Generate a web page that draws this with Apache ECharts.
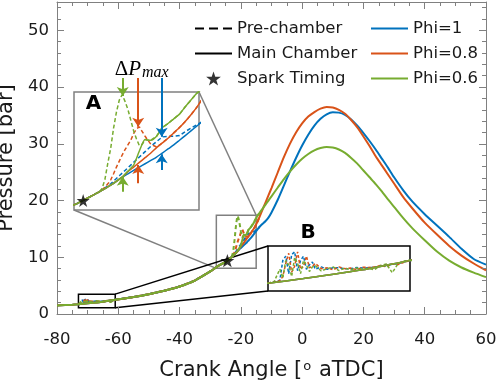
<!DOCTYPE html>
<html>
<head>
<meta charset="utf-8">
<script src="https://cdn.jsdelivr.net/npm/echarts@6/dist/echarts.min.js"></script>
<style>
  html, body { margin: 0; padding: 0; background: #fff; }
  #chart { width: 498px; height: 386px; }
  #ticks { position: absolute; left: 0; top: 0; width: 498px; height: 386px; pointer-events: none; }
</style>
</head>
<body>
<div id="chart"></div>
<div id="ticks"></div>
<script>
// crank angle [deg aTDC] of the main chamber traces
const angle = [-80, -75, -73, -70, -65, -61, -55, -50, -45, -40, -35, -30, -27, -25, -24, -23, -22, -21,
  -20.5, -20, -19.5, -19, -18.5, -18, -17.5, -17, -16.5, -16, -15.5, -15, -14.5, -14,
  -13, -12, -11, -10, -8, -6, -4, -2, 0, 2, 4, 6, 8, 10, 12, 14, 16, 18, 20, 22, 24, 26, 28, 30,
  33, 36, 40, 44, 48, 52, 56, 60];
// main chamber pressure [bar]
const mainPhi1 = [1.5, 1.63, 1.72, 1.88, 2.18, 2.5, 3.0, 3.5, 4.1, 4.85, 5.9, 7.5, 8.6, 9.15, 9.6, 10.05, 10.55, 11.15,
  11.4, 11.65, 11.9, 12.15, 12.4, 12.65, 12.95, 13.25, 13.55, 13.9, 14.25, 14.6, 14.95, 15.3,
  15.85, 16.35, 17.0, 17.9, 20.1, 22.6, 25.1, 27.5, 29.7, 31.6, 33.2, 34.4, 35.2, 35.55, 35.5, 35.1, 34.3, 33.2, 31.9, 30.5, 29.0, 27.4, 25.8, 24.1,
  21.8, 19.8, 17.6, 15.6, 13.6, 11.5, 9.7, 8.7];
const mainPhi08 = [1.5, 1.63, 1.72, 1.88, 2.18, 2.5, 3.0, 3.5, 4.1, 4.85, 5.9, 7.5, 8.6, 9.15, 9.6, 10.05, 10.55, 11.15,
  11.55, 11.9, 12.25, 12.6, 12.95, 13.35, 13.7, 14.05, 14.45, 14.85, 15.3, 15.8, 16.35, 17.0,
  18.3, 19.6, 20.9, 22.2, 24.9, 27.6, 30.0, 32.0, 33.6, 34.8, 35.6, 36.2, 36.5, 36.4, 36.0, 35.3, 34.2, 32.9, 31.3, 29.6, 27.8, 26.2, 24.6, 23.0,
  20.6, 18.6, 16.1, 14.0, 12.0, 10.3, 8.9, 7.7];
const mainPhi06 = [1.5, 1.63, 1.72, 1.88, 2.18, 2.5, 3.0, 3.5, 4.1, 4.85, 5.9, 7.5, 8.6, 9.15, 9.6, 10.05, 10.55, 11.15,
  11.6, 12.05, 13.1, 13.95, 13.9, 14.2, 14.85, 15.15, 15.5, 15.85, 16.4, 16.9, 17.4, 17.75,
  18.5, 19.25, 20.0, 20.75, 22.25, 23.75, 25.1, 26.3, 27.35, 28.2, 28.85, 29.25, 29.45, 29.35, 29.0, 28.4, 27.5, 26.5, 25.3, 24.1, 22.9, 21.6, 20.2, 18.9,
  16.9, 15.1, 13.0, 11.0, 9.4, 8.2, 7.3, 6.5];

// pre-chamber traces, drawn where they leave the main chamber trace
const preAngle = [-73, -72.5, -72, -71.75, -71.5, -71.25, -71, -70.75, -70.5, -70.25, -70, -69.75, -69.5, -69.25, -69,
  -68.5, -68, -67.5, -67, -66.5, -66, -65.5, -65, -64.5, -64, -63.5, -63, -62.5, -62, -61.5, -61,
  -55, -50, -45, -40, -35, -30, -27, -25, -24, -23,
  -22.75, -22.5, -22.25, -22, -21.75, -21.5, -21.25, -21, -20.75, -20.5, -20.25, -20, -19.75, -19.5, -19.25, -19, -18.75, -18.5,
  -18, -17.5, -17, -16.5, -16, -15.5, -15, -14.5, -14];
const prePhi1 = [1.72, 1.76, 1.82, 2.5, 2.65, 2.05, 2.7, 2.8, 2.15, 2.5, 2.65, 2.2, 2.35, 2.45, 2.2,
  2.28, 2.2, 2.25, 2.25, 2.22, 2.22, 2.26, 2.24, 2.25, 2.27, 2.3, 2.33, 2.37, 2.4, 2.45, 2.5,
  3.0, 3.5, 4.1, 4.85, 5.9, 7.5, 8.6, 9.15, 9.6, 10.05,
  10.2, 10.35, 10.5, 10.65, 10.85, 11.05, 11.25, 11.45, 11.65, 11.85, 12.05, 12.25, 12.45, 12.65, 12.85, 13.05, 13.25, 13.45,
  13.8, 14.15, 14.2, 14.2, 14.25, 14.55, 14.8, 15.05, 15.3];
const prePhi08 = [1.72, 1.76, 1.8, 1.95, 2.4, 2.75, 2.1, 2.3, 2.8, 2.2, 2.3, 2.65, 2.25, 2.3, 2.4,
  2.22, 2.25, 2.18, 2.28, 2.22, 2.24, 2.18, 2.27, 2.26, 2.28, 2.33, 2.28, 2.38, 2.36, 2.44, 2.5,
  3.0, 3.5, 4.1, 4.85, 5.9, 7.5, 8.6, 9.15, 9.6, 10.05,
  10.2, 10.4, 10.65, 10.95, 11.4, 11.9, 12.35, 12.8, 13.2, 13.55, 13.9, 14.4, 14.75, 14.9, 14.55, 14.2, 13.9, 13.6,
  13.4, 13.7, 14.05, 14.45, 14.85, 15.3, 15.8, 16.35, 17.0];
const prePhi06 = [1.72, 1.76, 2.2, 1.9, 2.5, 2.35, 1.95, 2.6, 2.4, 2.05, 2.5, 2.35, 2.12, 2.28, 2.32,
  2.14, 2.22, 2.28, 2.15, 2.24, 2.18, 2.24, 2.2, 2.23, 2.18, 2.33, 2.38, 2.08, 2.4, 2.48, 2.52,
  3.0, 3.5, 4.1, 4.85, 5.9, 7.5, 8.6, 9.15, 9.6, 10.05,
  10.3, 11.0, 12.2, 13.3, 14.8, 16.0, 16.9, 17.3, 16.8, 16.2, 15.4, 14.6, 14.0, 13.5, 13.6, 13.95, 13.9, 13.9,
  14.2, 14.85, 15.15, 15.5, 15.85, 16.4, 16.9, 17.4, 17.75];

// spark timing
const sparkAngle = [-24.4];
const sparkPressure = [9.4];

// delta P max arrows in zoom A (Phi=0.6, 0.8, 1)
const arrowAngle = [-20.95, -19.6, -17.55];
const arrowTopStart = [18.55, 18.55, 18.55];
const arrowTopTip = [17.2, 14.9, 14.17];
const arrowBottomStart = [10.06, 10.69, 11.68];
const arrowBottomTip = [11.18, 12.05, 12.85];

// axes
const xTicks = {min: -80, max: 60, interval: 20};
const yTicks = {min: 0, max: 55, interval: 10};
// zoomed windows: box drawn on the main plot, and range of each inset
const boxA = [[-28, 8.05], [-15, 17.4]];
const boxB = [[-73, 1.1], [-61, 3.5]];
const insetAX = [-25.2, -14.3], insetAY = [8.7, 17.5];
const insetBX = [-73, -61], insetBY = [1.45, 3.0];

const blue = '#0072BD', red = '#D95319', green = '#77AC30', gray = '#808080', ink = '#1a1a1a';
const FONT = 'DejaVu Sans';
const starPath = 'path://M50,2 L61.8,37.6 L99,37.6 L69,59.6 L80.4,95 L50,73.2 L19.6,95 L31,59.6 L1,37.6 L38.2,37.6 Z';
const solidIcon = 'path://M0,0h37v2h-37z';
const dashIcon = 'path://M0,0h9v2h-9zM14,0h9v2h-9zM28,0h9v2h-9z';
const mainGrid = {left: 57, top: 2, right: 12, bottom: 72, outerBoundsMode: 'none'};

const pairs = (xs, ys) => xs.map((x, i) => [x, ys[i]]);

const phis = [
  {name: 'Phi=1', color: blue, main: mainPhi1, pre: prePhi1},
  {name: 'Phi=0.8', color: red, main: mainPhi08, pre: prePhi08},
  {name: 'Phi=0.6', color: green, main: mainPhi06, pre: prePhi06}
];
const views = [
  {x: 0, y: 0, w: 2, dash: [4, 3], tag: ''},
  {x: 2, y: 2, w: 1.5, dash: [4, 2.5], tag: ' A'},
  {x: 3, y: 3, w: 1.5, dash: [3, 2], tag: ' B'}
];

const series = [];
views.forEach((v) => {
  phis.forEach((p) => {
    series.push({
      name: p.name + ' pre' + v.tag, type: 'line', xAxisIndex: v.x, yAxisIndex: v.y,
      data: pairs(preAngle, p.pre), showSymbol: false, symbol: 'none', silent: true,
      lineStyle: {color: p.color, width: v.w, type: v.dash}, itemStyle: {color: p.color}, z: 2
    });
  });
  phis.forEach((p) => {
    series.push({
      name: p.name + v.tag, type: 'line', xAxisIndex: v.x, yAxisIndex: v.y,
      data: pairs(angle, p.main), showSymbol: false, symbol: 'none', silent: true, smooth: 0.2,
      lineStyle: {color: p.color, width: v.w}, itemStyle: {color: p.color}, z: 3
    });
  });
});

// legend-only entries
series.push({name: 'Pre-chamber', type: 'line', data: [], symbol: 'none',
  lineStyle: {color: '#000', width: 1.5, type: [8, 5]}, itemStyle: {color: '#000'}});
series.push({name: 'Main Chamber', type: 'line', data: [], symbol: 'none',
  lineStyle: {color: '#000', width: 1.5}, itemStyle: {color: '#000'}});

const boxStyle = (c) => ({color: 'rgba(0,0,0,0)', borderColor: c, borderWidth: 1.5});
series.push({
  name: 'Spark Timing', type: 'scatter', xAxisIndex: 0, yAxisIndex: 0,
  data: pairs(sparkAngle, sparkPressure), symbol: starPath, symbolSize: 14, symbolKeepAspect: true,
  itemStyle: {color: '#000'}, z: 5, silent: true,
  markArea: {
    silent: true, label: {show: false},
    data: [
      [{coord: boxA[0], itemStyle: boxStyle(gray)}, {coord: boxA[1]}],
      [{coord: boxB[0], itemStyle: boxStyle('#000')}, {coord: boxB[1]}]
    ]
  }
});
series.push({
  name: 'Spark Timing A', type: 'scatter', xAxisIndex: 2, yAxisIndex: 2,
  data: pairs(sparkAngle, sparkPressure), symbol: starPath, symbolSize: 13,
  itemStyle: {color: '#000'}, z: 5, silent: true
});

// delta P max arrows
const arrowData = [];
arrowAngle.forEach((a, i) => {
  const c = [green, red, blue][i];
  arrowData.push({coords: [[a, arrowTopStart[i]], [a, arrowTopTip[i]]], lineStyle: {color: c}});
  arrowData.push({coords: [[a, arrowBottomStart[i]], [a, arrowBottomTip[i]]], lineStyle: {color: c}});
});
series.push({
  name: 'dP arrows', type: 'lines', coordinateSystem: 'cartesian2d', xAxisIndex: 2, yAxisIndex: 2,
  data: arrowData, symbol: ['none', 'arrow'], symbolSize: 9, clip: false, silent: true, z: 6,
  lineStyle: {width: 2, opacity: 1, curveness: 0}
});

const labelStyle = () => ({color: ink, fontSize: 16.5, fontFamily: FONT});
const off = () => ({show: false});
const axisLine = () => ({show: true, onZero: false, lineStyle: {color: gray, width: 1}});
const majorTick = () => ({show: true, inside: true, length: 7, lineStyle: {color: gray, width: 1}});
const minorTick = (n) => ({show: true, splitNumber: n, length: 4, lineStyle: {color: gray, width: 1}});
const quietAxis = (grid, range) => ({type: 'value', gridIndex: grid, min: range[0], max: range[1],
  axisLine: off(), axisTick: off(), axisLabel: off(), splitLine: off()});

const option = {
  animation: false,
  backgroundColor: '#fff',
  grid: [
    mainGrid,
    {left: 74, top: 92, width: 125, height: 118, show: true, borderColor: gray, borderWidth: 1.5, backgroundColor: '#fff', outerBoundsMode: 'none'},
    {left: 268, top: 246, width: 142, height: 45, show: true, borderColor: '#000', borderWidth: 1.5, backgroundColor: '#fff', outerBoundsMode: 'none'}
  ],
  xAxis: [
    {type: 'value', gridIndex: 0, position: 'bottom', min: xTicks.min, max: xTicks.max, interval: xTicks.interval,
      axisLine: axisLine(), splitLine: off(), axisTick: off(),
      axisLabel: Object.assign({margin: 17}, labelStyle()),
      name: 'Crank Angle [{sup|o} aTDC]', nameLocation: 'middle', nameGap: 46,
      nameTextStyle: {color: ink, fontSize: 21, fontFamily: FONT,
        rich: {sup: {fontSize: 13, fontFamily: FONT, color: ink, verticalAlign: 'top', padding: [0, 1, 0, 1]}}}},
    {type: 'value', gridIndex: 0, position: 'top', min: xTicks.min, max: xTicks.max, interval: xTicks.interval,
      axisLine: axisLine(), splitLine: off(), axisLabel: off(), axisTick: off()},
    quietAxis(1, insetAX),
    quietAxis(2, insetBX)
  ],
  yAxis: [
    {type: 'value', gridIndex: 0, position: 'left', min: yTicks.min, max: yTicks.max, interval: yTicks.interval,
      axisLine: axisLine(), splitLine: off(), axisTick: off(),
      axisLabel: Object.assign({margin: 8, showMaxLabel: false}, labelStyle()),
      name: 'Pressure [bar]', nameLocation: 'middle', nameGap: 35,
      nameTextStyle: {color: ink, fontSize: 21, fontFamily: FONT}},
    {type: 'value', gridIndex: 0, position: 'right', min: yTicks.min, max: yTicks.max, interval: yTicks.interval,
      axisLine: axisLine(), splitLine: off(), axisLabel: off(), axisTick: off()},
    quietAxis(1, insetAY),
    quietAxis(2, insetBY)
  ],
  legend: [
    {data: [{name: 'Pre-chamber', icon: dashIcon}, {name: 'Main Chamber', icon: solidIcon}, {name: 'Spark Timing'}],
      orient: 'vertical', left: 190, top: 15,
      itemWidth: 37, itemHeight: 14, itemGap: 8, selectedMode: false, symbolKeepAspect: true,
      textStyle: {color: ink, fontSize: 16.5, fontFamily: FONT}},
    {data: [{name: 'Phi=1', icon: solidIcon}, {name: 'Phi=0.8', icon: solidIcon}, {name: 'Phi=0.6', icon: solidIcon}],
      orient: 'vertical', left: 366, top: 15,
      itemWidth: 37, itemHeight: 14, itemGap: 8, selectedMode: false, symbolKeepAspect: true,
      textStyle: {color: ink, fontSize: 16.5, fontFamily: FONT}}
  ],
  series: series
};

const chart = echarts.init(document.getElementById('chart'));
chart.setOption(option);

// box ticks (inside, on all four sides) drawn by a second, transparent chart over the same grid
const tickAxis = (pos, t, n) => ({type: 'value', position: pos, min: t.min, max: t.max, interval: t.interval,
  axisLine: {show: false, onZero: false}, axisLabel: off(), splitLine: off(),
  axisTick: majorTick(), minorTick: minorTick(n)});
const tickChart = echarts.init(document.getElementById('ticks'));
tickChart.setOption({
  animation: false,
  backgroundColor: 'transparent',
  grid: mainGrid,
  xAxis: [tickAxis('bottom', xTicks, 4), tickAxis('top', xTicks, 4)],
  yAxis: [tickAxis('left', yTicks, 5), tickAxis('right', yTicks, 5)],
  series: [{type: 'line', data: [], silent: true}]
});

// connector lines and labels, placed through the axes
const mainF = {xAxisIndex: 0, yAxisIndex: 0};
const aF = {xAxisIndex: 2, yAxisIndex: 2};
const bF = {xAxisIndex: 3, yAxisIndex: 3};
const px = (f, v) => chart.convertToPixel(f, v);

const aTR = px(aF, [insetAX[1], insetAY[1]]), aBL = px(aF, [insetAX[0], insetAY[0]]);
const boxATR = px(mainF, [boxA[1][0], boxA[1][1]]), boxABL = px(mainF, [boxA[0][0], boxA[0][1]]);
const bTL = px(bF, [insetBX[0], insetBY[1]]), bBL = px(bF, [insetBX[0], insetBY[0]]);
const boxBTR = px(mainF, [boxB[1][0], boxB[1][1]]), boxBBR = px(mainF, [boxB[1][0], boxB[0][1]]);

const seg = (p, q, c) => ({type: 'line', silent: true, z: 1,
  shape: {x1: p[0], y1: p[1], x2: q[0], y2: q[1]}, style: {stroke: c, lineWidth: 1.5}});

const labA = px(aF, [-23.5, 16.65]);
const labB = px(bF, [-69.6, 3.45]);
const labDP = px(aF, [-19.3, 19.15]);

chart.setOption({
  graphic: [
    seg(aTR, boxATR, gray),
    seg(aBL, boxABL, gray),
    seg(boxBTR, bTL, '#000'),
    seg(boxBBR, bBL, '#000'),
    {type: 'text', silent: true, z: 10, x: labA[0], y: labA[1],
      style: {text: 'A', fill: '#000', font: 'bold 20px "DejaVu Sans"', align: 'center', verticalAlign: 'middle'}},
    {type: 'text', silent: true, z: 10, x: labB[0], y: labB[1],
      style: {text: 'B', fill: '#000', font: 'bold 20px "DejaVu Sans"', align: 'center', verticalAlign: 'middle'}},
    {type: 'text', silent: true, z: 10, x: labDP[0], y: labDP[1],
      style: {text: '{d|\u0394}{p|P}{s|max}', align: 'center', verticalAlign: 'middle',
        rich: {
          d: {fontFamily: 'Liberation Serif', fontSize: 21, fill: '#000', verticalAlign: 'bottom'},
          p: {fontFamily: 'Liberation Serif', fontStyle: 'italic', fontSize: 21, fill: '#000', verticalAlign: 'bottom'},
          s: {fontFamily: 'Liberation Serif', fontStyle: 'italic', fontSize: 16, fill: '#000', verticalAlign: 'bottom', padding: [0, 0, 0, 1]}
        }}}
  ]
});
</script>
</body>
</html>
